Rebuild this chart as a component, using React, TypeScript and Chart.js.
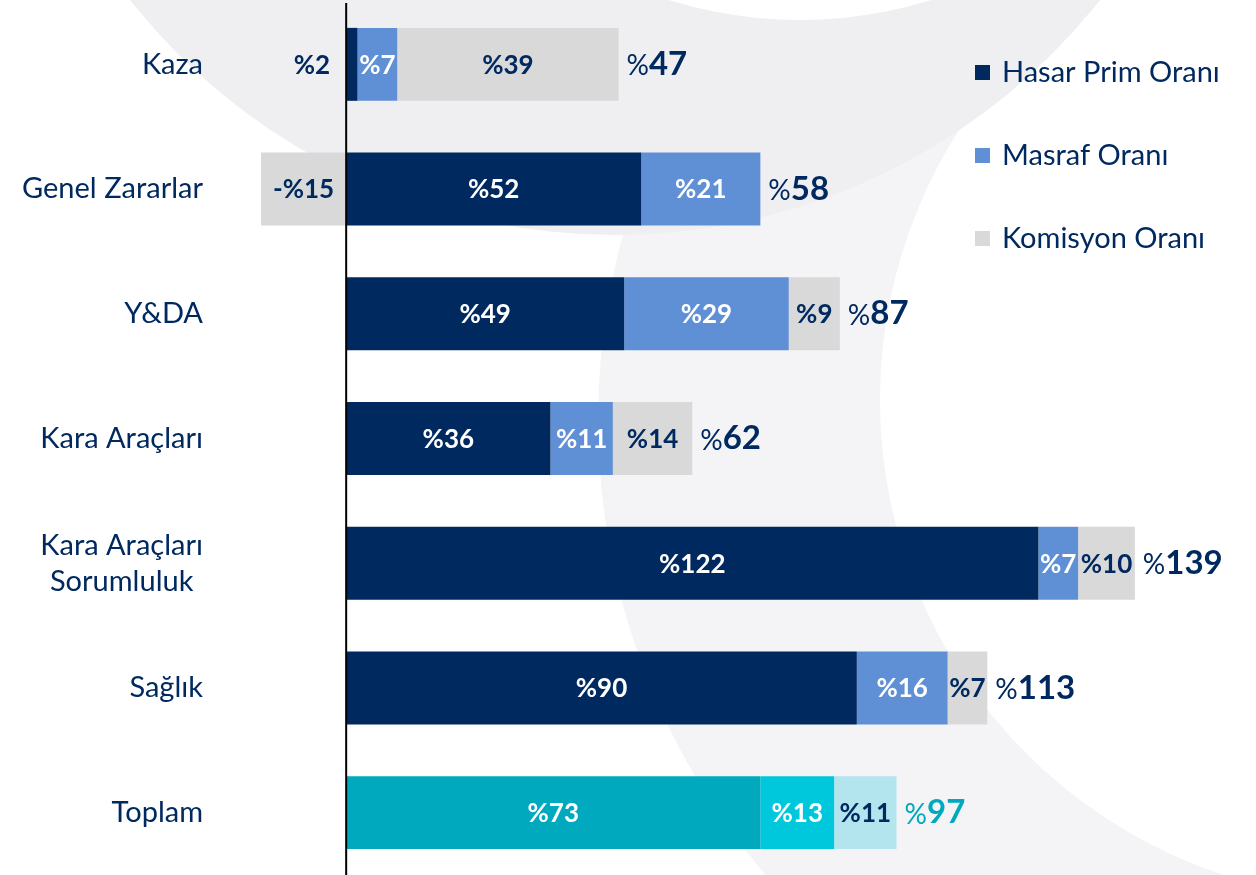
import React, { useEffect, useRef } from 'react';
import { Chart, registerables } from 'chart.js';

Chart.register(...registerables);

const categories: string[][] = [
  ['Kaza'],
  ['Genel Zararlar'],
  ['Y&DA'],
  ['Kara Araçları'],
  ['Kara Araçları', 'Sorumluluk'],
  ['Sağlık'],
  ['Toplam'],
];
const hasarPrimOrani = [2, 52, 49, 36, 122, 90, 73];
const masrafOrani = [7, 21, 29, 11, 7, 16, 13];
const komisyonOrani = [39, -15, 9, 14, 10, 7, 11];
const toplamOran = [47, 58, 87, 62, 139, 113, 97];
const seriesNames = ['Hasar Prim Oranı', 'Masraf Oranı', 'Komisyon Oranı'];

const NAVY = '#002960';
const MASRAF = '#5F8FD4';
const GRAY = '#D9D9D9';
const T1 = '#00A9BD';
const T2 = '#00C8DC';
const T3 = '#B2E5EE';
const FONT = "Lato, 'Noto Sans', sans-serif";

const TOTAL_INDEX = categories.length - 1;
const colorFor = (base: string, total: string) =>
  categories.map((_, i) => (i === TOTAL_INDEX ? total : base));

const seriesColors = [colorFor(NAVY, T1), colorFor(MASRAF, T2), colorFor(GRAY, T3)];
const labelColors = [
  colorFor('#FFFFFF', '#FFFFFF'),
  colorFor('#FFFFFF', '#FFFFFF'),
  colorFor(NAVY, NAVY),
];
const legendColors = [NAVY, MASRAF, GRAY];

const overlayPlugin = {
  id: 'overlay',
  beforeDraw(chart: any) {
    const { ctx, width, height } = chart;
    ctx.save();
    ctx.fillStyle = '#FFFFFF';
    ctx.fillRect(0, 0, width, height);
    // faint watermark shapes
    ctx.fillStyle = '#F4F4F6';
    ctx.beginPath();
    ctx.arc(1300, 420, 702, 0, Math.PI * 2);
    ctx.arc(1380, 400, 500, 0, Math.PI * 2, true);
    ctx.fill('evenodd');
    ctx.fillStyle = '#EFEFF1';
    ctx.beginPath();
    ctx.arc(615, -383, 618, 0, Math.PI * 2);
    ctx.fill();
    ctx.fillStyle = '#FFFFFF';
    ctx.beginPath();
    ctx.arc(800, -420, 440, 0, Math.PI * 2);
    ctx.fill();
    ctx.restore();
  },
  afterDatasetsDraw(chart: any) {
    const { ctx } = chart;
    const xs = chart.scales.x;
    const ys = chart.scales.y;
    ctx.save();

    // zero axis line
    const x0 = xs.getPixelForValue(0);
    ctx.strokeStyle = '#000000';
    ctx.lineWidth = 2;
    ctx.beginPath();
    ctx.moveTo(x0, 3);
    ctx.lineTo(x0, chart.height);
    ctx.stroke();

    // value labels
    ctx.textBaseline = 'middle';
    chart.data.datasets.forEach((ds: any, di: number) => {
      const meta = chart.getDatasetMeta(di);
      meta.data.forEach((bar: any, i: number) => {
        const v = ds.data[i] as number;
        const txt = (v < 0 ? '-' : '') + '%' + Math.abs(v);
        ctx.font = `bold 26px ${FONT}`;
        const w = ctx.measureText(txt).width;
        const p = bar.getProps(['x', 'y', 'base'], true);
        const left = Math.min(p.x, p.base);
        const right = Math.max(p.x, p.base);
        if (right - left < w - 8 && di === 0) {
          ctx.fillStyle = NAVY;
          ctx.textAlign = 'right';
          ctx.fillText(txt, p.base - 16, p.y + 1);
        } else {
          ctx.fillStyle = labelColors[di][i];
          ctx.textAlign = 'center';
          ctx.fillText(txt, (left + right) / 2, p.y + 1);
        }
      });
    });

    // totals
    categories.forEach((_, i) => {
      const vals = [hasarPrimOrani[i], masrafOrani[i], komisyonOrani[i]];
      const pos = vals.filter((v) => v > 0).reduce((a, b) => a + b, 0);
      const xEnd = xs.getPixelForValue(pos) + 8;
      const yc = ys.getPixelForValue(i);
      ctx.fillStyle = i === TOTAL_INDEX ? T1 : NAVY;
      ctx.textAlign = 'left';
      ctx.font = `28px ${FONT}`;
      ctx.fillText('%', xEnd, yc + 2);
      const pw = ctx.measureText('%').width;
      ctx.font = `bold 33px ${FONT}`;
      ctx.fillText(String(toplamOran[i]), xEnd + pw, yc);
    });

    // category labels
    ctx.fillStyle = NAVY;
    ctx.font = `29px ${FONT}`;
    categories.forEach((lines, i) => {
      const yc = ys.getPixelForValue(i);
      const rightEdge = 203;
      if (lines.length === 1) {
        ctx.textAlign = 'right';
        ctx.fillText(lines[0], rightEdge, yc);
      } else {
        const maxW = Math.max(...lines.map((l) => ctx.measureText(l).width));
        const cx = rightEdge - maxW / 2;
        ctx.textAlign = 'center';
        const lh = 36;
        lines.forEach((l, k) => {
          ctx.fillText(l, cx, yc + (k - (lines.length - 1) / 2) * lh);
        });
      }
    });

    // legend
    const legendY = [72, 155, 238];
    seriesNames.forEach((name, k) => {
      ctx.fillStyle = legendColors[k];
      ctx.fillRect(975, legendY[k] - 7, 15, 15);
      ctx.fillStyle = NAVY;
      ctx.textAlign = 'left';
      ctx.font = `29px ${FONT}`;
      ctx.fillText(name, 1002, legendY[k] + 1);
    });

    ctx.restore();
  },
};

export default function App() {
  const ref = useRef<HTMLCanvasElement>(null);
  useEffect(() => {
    if (!ref.current) return;
    const chart = new Chart(ref.current, {
      type: 'bar',
      data: {
        labels: categories.map((c) => c.join(' ')),
        datasets: [
          { label: seriesNames[0], data: hasarPrimOrani, backgroundColor: seriesColors[0] },
          { label: seriesNames[1], data: masrafOrani, backgroundColor: seriesColors[1] },
          { label: seriesNames[2], data: komisyonOrani, backgroundColor: seriesColors[2] },
        ],
      },
      options: {
        indexAxis: 'y',
        animation: false,
        responsive: true,
        maintainAspectRatio: false,
        layout: { padding: { left: 210, right: 2, top: 2, bottom: 0 } },
        datasets: { bar: { categoryPercentage: 1, barPercentage: 0.585, borderWidth: 0 } },
        scales: {
          x: { stacked: true, min: -24, max: 160, display: false },
          y: { stacked: true, display: false },
        },
        plugins: { legend: { display: false }, tooltip: { enabled: false } },
      },
      plugins: [overlayPlugin],
    });
    return () => chart.destroy();
  }, []);
  return (
    <div style={{ position: 'absolute', left: 0, top: 0, width: 1256, height: 875 }}>
      <canvas ref={ref} />
    </div>
  );
}
